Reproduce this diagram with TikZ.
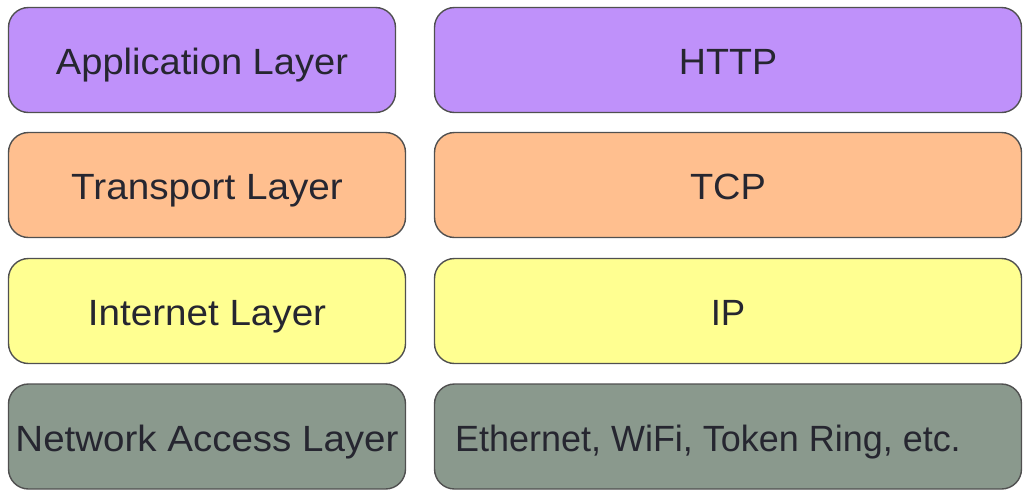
\documentclass[tikz,border=0pt]{standalone}
\usepackage{fontspec}
\setmainfont{Liberation Sans}
\definecolor{purp}{HTML}{BF91FA}
\definecolor{oran}{HTML}{FFBF8F}
\definecolor{yell}{HTML}{FFFF91}
\definecolor{grey}{HTML}{8A998D}
\definecolor{bord}{HTML}{505050}
\definecolor{txt}{HTML}{262630}
\newcommand{\hsx}[2]{\scalebox{#1}[1]{#2}}
\begin{document}
\begin{tikzpicture}[x=1pt,y=-1pt,
  box/.style={draw=bord, line width=1.4pt, rounded corners=20pt, inner sep=0pt,
    font=\fontsize{36.5}{40}\selectfont, text=txt, minimum height=105pt,
    text height=29pt, text depth=0pt},
  lbox/.style={box, minimum width=397pt},
  rbox/.style={box, minimum width=587pt}]
\useasboundingbox (0,0) rectangle (1029,499);
\node[box, fill=purp, minimum width=387pt] (app) at (202,60) {\hsx{1.043}{Application Layer}};
\node[rbox, fill=purp] (http) at (728,60) {\hsx{1.03}{HTTP}};
\node[lbox, fill=oran] (tra) at (207,185) {\hsx{1.06}{Transport Layer}};
\node[rbox, fill=oran] (tcp) at (728,185) {\hsx{1.04}{TCP}};
\node[lbox, fill=yell] (int) at (207,311) {\hsx{1.058}{Internet Layer}};
\node[rbox, fill=yell] (ip) at (728,311) {IP};
\node[lbox, fill=grey] (net) at (207,436.5) {\hsx{1.055}{Network Access Layer}};
\node[rbox, fill=grey] (eth) at (728,436.5) {\hsx{0.985}{Ethernet, WiFi, Token Ring, etc.}\hspace*{40pt}};
\end{tikzpicture}
\end{document}
